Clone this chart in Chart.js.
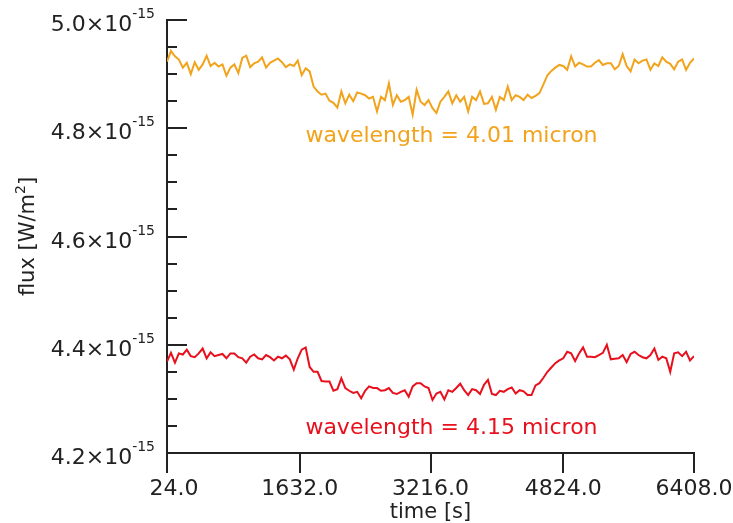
<!DOCTYPE html>
<html>
<head>
<meta charset="utf-8">
<script src="https://cdn.jsdelivr.net/npm/chart.js@4"></script>
<style>
  html, body { margin: 0; padding: 0; background: #fff; }
  #contenedor { width: 733px; height: 523px; }
</style>
</head>
<body>
<div id="contenedor"><canvas id="graficoFlujo"></canvas></div>
<script>
//Muestreo: un punto cada 48 s desde t = 24 s
const tInicio = 24;
const tPaso = 48;
//Flujo en unidades de 1e-15 W/m^2 - canal 4.01 micron
const flujo401 = [
  4.923, 4.943, 4.933, 4.927, 4.912, 4.921, 4.900, 4.922, 4.908, 4.918,
  4.934, 4.915, 4.921, 4.914, 4.918, 4.897, 4.912, 4.918, 4.902, 4.930,
  4.934, 4.913, 4.920, 4.923, 4.931, 4.912, 4.921, 4.925, 4.929, 4.922,
  4.913, 4.918, 4.915, 4.925, 4.898, 4.911, 4.905, 4.877, 4.868, 4.862,
  4.864, 4.851, 4.847, 4.838, 4.868, 4.846, 4.862, 4.850, 4.866, 4.864,
  4.861, 4.855, 4.858, 4.831, 4.858, 4.852, 4.883, 4.843, 4.861, 4.849,
  4.852, 4.858, 4.825, 4.871, 4.849, 4.843, 4.852, 4.837, 4.828, 4.849,
  4.858, 4.868, 4.846, 4.861, 4.849, 4.858, 4.831, 4.858, 4.852, 4.868,
  4.845, 4.846, 4.858, 4.834, 4.858, 4.852, 4.877, 4.852, 4.861, 4.858,
  4.852, 4.862, 4.856, 4.860, 4.865, 4.881, 4.898, 4.906, 4.912, 4.917,
  4.915, 4.908, 4.933, 4.914, 4.921, 4.918, 4.914, 4.914, 4.921, 4.926,
  4.917, 4.920, 4.920, 4.909, 4.915, 4.937, 4.915, 4.905, 4.927, 4.920,
  4.925, 4.927, 4.908, 4.920, 4.915, 4.931, 4.923, 4.919, 4.909, 4.923,
  4.927, 4.908, 4.921, 4.929
];
//Flujo en unidades de 1e-15 W/m^2 - canal 4.15 micron
const flujo415 = [
  4.369, 4.385, 4.367, 4.384, 4.382, 4.391, 4.379, 4.377, 4.384, 4.393,
  4.375, 4.386, 4.379, 4.381, 4.383, 4.375, 4.384, 4.384, 4.377, 4.375,
  4.367, 4.378, 4.382, 4.375, 4.373, 4.381, 4.377, 4.371, 4.378, 4.375,
  4.380, 4.373, 4.354, 4.375, 4.391, 4.395, 4.359, 4.350, 4.350, 4.333,
  4.332, 4.332, 4.315, 4.318, 4.338, 4.320, 4.315, 4.311, 4.313, 4.301,
  4.315, 4.323, 4.320, 4.320, 4.315, 4.316, 4.320, 4.311, 4.309, 4.313,
  4.316, 4.304, 4.323, 4.329, 4.329, 4.323, 4.320, 4.298, 4.310, 4.313,
  4.299, 4.316, 4.313, 4.320, 4.328, 4.316, 4.307, 4.318, 4.316, 4.309,
  4.326, 4.335, 4.309, 4.307, 4.315, 4.313, 4.318, 4.321, 4.310, 4.316,
  4.314, 4.307, 4.307, 4.325, 4.329, 4.339, 4.350, 4.358, 4.366, 4.371,
  4.375, 4.387, 4.384, 4.370, 4.384, 4.395, 4.378, 4.378, 4.377, 4.381,
  4.385, 4.400, 4.373, 4.374, 4.375, 4.381, 4.368, 4.383, 4.387, 4.381,
  4.377, 4.375, 4.381, 4.393, 4.372, 4.378, 4.375, 4.350, 4.384, 4.386,
  4.379, 4.387, 4.371, 4.379
];
//Marcas de los ejes
const ticksTiempo = [24, 1632, 3216, 4824, 6408];
const ticksFlujo = [4.2, 4.4, 4.6, 4.8, 5.0];
const ticksMenores = [4.25, 4.3, 4.35, 4.45, 4.5, 4.55, 4.65, 4.7, 4.75, 4.85, 4.9, 4.95];
//Rotulos de cada curva
const rotulos = ['wavelength = 4.01 micron', 'wavelength = 4.15 micron'];

const naranja = '#f2a31c';
const rojo = '#e8101c';
const tinta = '#222';
const fuente = '"DejaVu Sans", sans-serif';

const aPuntos = (serie) => serie.map((v, i) => ({ x: tInicio + i * tPaso, y: v }));

//Eje vertical: marcas hacia adentro, etiquetas con exponente y rotulos
const ejeFlujo = {
  id: 'ejeFlujo',
  afterDraw(chart) {
    const { ctx, scales: { x, y } } = chart;
    const izq = x.left;
    ctx.save();
    ctx.strokeStyle = tinta;
    ctx.lineWidth = 2;
    ticksFlujo.concat(ticksMenores).forEach(v => {
      const py = Math.round(y.getPixelForValue(v));
      const largo = ticksFlujo.includes(v) ? 20 : 10;
      ctx.beginPath();
      ctx.moveTo(izq, py);
      ctx.lineTo(izq + largo, py);
      ctx.stroke();
    });
    ctx.fillStyle = tinta;
    ctx.textAlign = 'right';
    ctx.textBaseline = 'alphabetic';
    ticksFlujo.forEach(v => {
      const py = y.getPixelForValue(v);
      ctx.font = '14px ' + fuente;
      const exp = '-15';
      const anchoExp = ctx.measureText(exp).width;
      ctx.fillText(exp, izq - 12, py - 2);
      ctx.font = '22px ' + fuente;
      ctx.fillText(v.toFixed(1) + '\u00d710', izq - 12 - anchoExp, py + 11);
    });
    //titulo del eje vertical, con el 2 como superindice
    ctx.save();
    ctx.translate(34, (y.top + y.bottom) / 2);
    ctx.rotate(-Math.PI / 2);
    ctx.textAlign = 'left';
    ctx.font = '21px ' + fuente;
    const base = 'flux [W/m';
    const anchoBase = ctx.measureText(base).width;
    ctx.font = '14px ' + fuente;
    const anchoSup = ctx.measureText('2').width;
    ctx.font = '21px ' + fuente;
    const anchoCierre = ctx.measureText(']').width;
    let px = -(anchoBase + anchoSup + anchoCierre) / 2;
    ctx.fillText(base, px, 0);
    px += anchoBase;
    ctx.font = '14px ' + fuente;
    ctx.fillText('2', px, -9);
    px += anchoSup;
    ctx.font = '21px ' + fuente;
    ctx.fillText(']', px, 0);
    ctx.restore();
    //rotulos de las curvas
    ctx.textAlign = 'center';
    ctx.textBaseline = 'middle';
    ctx.font = '22px ' + fuente;
    ctx.fillStyle = naranja;
    ctx.fillText(rotulos[0], x.getPixelForValue(3470), y.getPixelForValue(4.786));
    ctx.fillStyle = rojo;
    ctx.fillText(rotulos[1], x.getPixelForValue(3470), y.getPixelForValue(4.245));
    ctx.restore();
  }
};

new Chart(document.getElementById('graficoFlujo'), {
  type: 'line',
  data: {
    datasets: [{
      label: rotulos[0],
      data: aPuntos(flujo401),
      borderColor: naranja,
      borderWidth: 2,
      pointRadius: 0,
      tension: 0
    }, {
      label: rotulos[1],
      data: aPuntos(flujo415),
      borderColor: rojo,
      borderWidth: 2,
      pointRadius: 0,
      tension: 0
    }]
  },
  options: {
    responsive: true,
    maintainAspectRatio: false,
    animation: false,
    layout: { padding: { left: 167, top: 20, right: 39, bottom: 0 } },
    plugins: { legend: { display: false }, tooltip: { enabled: false } },
    scales: {
      x: {
        type: 'linear',
        min: 24,
        max: 6408,
        afterBuildTicks: (s) => { s.ticks = ticksTiempo.map(v => ({ value: v })); },
        //alto fijo del eje y sin margen extra por las etiquetas de los extremos
        afterFit: (s) => { s.height = 70; s.paddingLeft = 0; s.paddingRight = 0; },
        grid: { drawOnChartArea: false, tickLength: 20, color: tinta, lineWidth: 2 },
        border: { color: tinta, width: 2 },
        ticks: {
          color: tinta,
          font: { family: fuente, size: 22, lineHeight: 1 },
          padding: 5,
          maxRotation: 0,
          autoSkip: false,
          //la primera etiqueta va algo corrida a la derecha
          callback: (v, i) => (i === 0 ? '  ' : '') + Number(v).toFixed(1)
        },
        title: {
          display: true,
          text: 'time [s]',
          color: tinta,
          font: { family: fuente, size: 21, lineHeight: 1 },
          padding: { top: 0, bottom: 0 }
        }
      },
      y: {
        min: 4.2,
        max: 5.0,
        grid: { display: false, drawTicks: false },
        border: { color: tinta, width: 2 },
        ticks: { display: false }
      }
    }
  },
  plugins: [ejeFlujo]
});
</script>
</body>
</html>
